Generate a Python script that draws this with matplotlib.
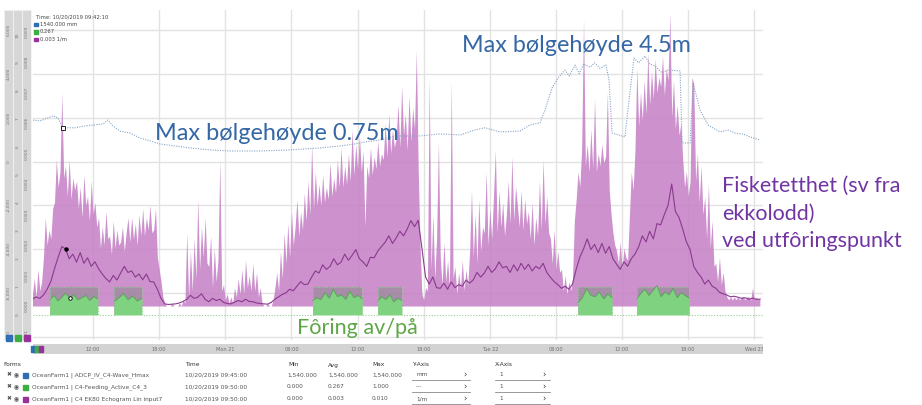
import numpy as np
import pandas as pd
import matplotlib
matplotlib.use("Agg")
import matplotlib.pyplot as plt
from matplotlib.patches import Rectangle
from matplotlib.transforms import blended_transform_factory

# EK80 echogram, peak sv every 10 min from Sun 20 06:30 (10^-3 1/m), one row per hour
echo_peak_milli = [
    0.4, 0.9, 0.3, 1.2, 0.5, 0.8,
    1.6, 2.9, 2.0, 2.5, 2.2, 3.2,
    3.4, 4.8, 3.9, 4.4, 7.0, 4.2,
    4.6, 3.6, 4.8, 3.5, 4.2, 3.8,
    4.1, 3.2, 3.9, 2.9, 4.3, 3.3,
    3.6, 2.8, 4.1, 3.0, 3.4, 2.6,
    2.9, 1.9, 2.6, 2.0, 3.1, 2.2,
    2.3, 1.7, 2.8, 1.9, 2.5, 2.0,
    2.1, 2.6, 1.8, 2.4, 2.9, 2.1,
    2.9, 2.2, 2.7, 2.0, 3.0, 2.3,
    3.2, 2.3, 2.9, 2.5, 3.3, 2.4,
    2.5, 3.2, 1.6, 1.2, 0.8, 0.3,
    0.1, 0.0, 0.0, 0.0, 0.1, 0.0,
    0.0, 0.0, 0.1, 0.0, 0.2, 0.1,
    2.4, 0.3, 1.8, 0.5, 2.2, 0.9,
    3.5, 1.2, 2.6, 1.6, 2.9, 1.4,
    1.3, 2.3, 0.6, 1.9, 0.8, 1.5,
    4.8, 0.5, 0.7, 0.2, 0.4, 0.1,
    0.3, 0.1, 0.6, 0.3, 0.9, 0.4,
    1.2, 0.4, 1.5, 0.6, 1.0, 0.5,
    1.4, 0.5, 1.1, 0.3, 0.6, 0.1,
    0.0, 0.0, 0.1, 0.0, 0.0, 0.2,
    0.6, 1.1, 0.5, 1.8, 0.9, 2.4,
    1.4, 2.7, 1.6, 3.1, 2.0, 2.6,
    3.5, 2.3, 3.1, 2.5, 3.7, 2.8,
    4.1, 3.0, 5.3, 3.2, 4.4, 3.3,
    4.0, 3.3, 4.3, 3.4, 3.9, 3.5,
    4.7, 3.6, 4.2, 3.7, 4.8, 3.9,
    5.2, 3.9, 4.6, 4.0, 5.0, 4.1,
    5.8, 4.3, 5.3, 4.5, 5.6, 4.4,
    5.1, 2.6, 4.6, 4.2, 5.2, 4.3,
    4.9, 4.5, 5.4, 4.6, 5.0, 4.8,
    6.0, 4.9, 6.3, 5.0, 5.8, 5.2,
    5.5, 6.6, 5.2, 7.2, 5.6, 6.3,
    5.1, 6.9, 5.4, 6.5, 5.8, 8.4,
    4.5, 2.0, 0.4, 0.2, 0.6, 0.5,
    7.5, 1.2, 3.0, 0.9, 2.2, 5.4,
    1.6, 0.7, 2.1, 0.8, 1.5, 0.6,
    7.4, 0.9, 1.3, 0.4, 1.1, 0.6,
    1.5, 0.5, 1.2, 0.7, 1.8, 3.8,
    1.6, 3.0, 1.4, 3.5, 1.8, 2.6,
    2.4, 4.4, 2.0, 3.2, 2.2, 3.6,
    5.1, 2.4, 3.8, 2.6, 3.4, 2.3,
    3.0, 4.1, 2.7, 4.9, 2.8, 3.9,
    3.3, 2.6, 3.8, 2.5, 3.5, 2.7,
    3.1, 2.2, 3.4, 2.0, 2.9, 2.3,
    4.1, 2.5, 4.8, 2.7, 3.6, 2.4,
    2.2, 1.4, 2.5, 1.2, 1.8, 1.1,
    1.2, 0.5, 1.0, 0.4, 0.8, 0.5,
    0.9, 2.8, 3.5, 4.4, 3.9, 5.2,
    9.4, 4.6, 5.3, 4.4, 5.8, 4.5,
    6.8, 4.4, 5.0, 4.6, 5.3, 4.7,
    4.9, 7.0, 3.8, 3.0, 2.4, 2.0,
    1.8, 1.4, 2.1, 1.2, 1.9, 1.6,
    1.5, 3.0, 4.4, 3.8, 5.1, 7.8,
    5.9, 7.0, 6.1, 7.4, 6.3, 8.3,
    6.6, 7.7, 6.8, 8.1, 7.0, 7.5,
    7.2, 8.2, 6.9, 7.8, 7.4, 9.6,
    6.2, 7.4, 5.8, 6.6, 5.6, 6.0,
    4.8, 3.9, 4.4, 3.6, 4.1, 7.5,
    7.3, 4.1, 5.0, 3.4, 4.6, 3.0,
    3.6, 2.2, 4.0, 1.9, 2.8, 1.3,
    1.4, 0.8, 1.6, 0.7, 1.1, 0.5,
    0.3, 0.2, 0.3, 0.2, 0.3, 0.2,
    0.3, 0.2, 0.3, 0.3, 0.2, 0.3,
    0.3, 0.2, 0.6, 0.2, 0.3, 0.2,
    0.3,
]

# running mean of the echogram, every 20 min from Sun 20 06:30 (10^-3 1/m)
echo_mean_milli = [
    0.22, 0.30, 0.25, 0.36, 0.55, 0.80, 1.22, 1.60, 1.95, 1.87, 1.55, 1.70,
    1.44, 1.75, 1.40, 1.58, 1.30, 1.45, 1.22, 1.05, 0.90, 0.79, 1.00, 0.85,
    1.08, 1.30, 1.10, 1.15, 0.95, 1.05, 0.86, 1.05, 0.80, 0.79, 0.55, 0.25,
    0.07, 0.05, 0.06, 0.07, 0.10, 0.15, 0.22, 0.35, 0.25, 0.29, 0.40, 0.22,
    0.14, 0.25, 0.18, 0.22, 0.12, 0.08, 0.07, 0.12, 0.18, 0.14, 0.22, 0.15,
    0.14, 0.10, 0.08, 0.07, 0.06, 0.12, 0.22, 0.30, 0.38, 0.43, 0.55, 0.50,
    0.65, 0.80, 0.70, 0.72, 0.95, 1.15, 1.08, 1.35, 1.20, 1.30, 1.55, 1.35,
    1.44, 1.70, 1.50, 1.66, 1.85, 1.55, 1.44, 1.30, 1.60, 1.58, 1.80, 1.95,
    2.09, 2.30, 2.05, 2.23, 2.45, 2.30, 2.52, 2.80, 2.60, 2.81, 1.90, 0.95,
    0.72, 0.95, 0.60, 0.58, 0.75, 0.55, 0.79, 0.60, 0.70, 0.65, 0.85, 0.75,
    0.86, 1.10, 0.95, 1.08, 1.30, 1.10, 1.22, 1.45, 1.25, 1.30, 1.10, 1.35,
    1.15, 1.40, 1.20, 1.37, 1.15, 1.30, 1.22, 1.40, 1.10, 0.94, 0.80, 0.70,
    0.58, 0.65, 0.55, 0.72, 1.20, 1.60, 1.87, 2.20, 1.85, 2.02, 1.75, 2.05,
    1.73, 1.95, 1.55, 1.37, 1.20, 1.45, 1.30, 1.55, 1.70, 1.94, 2.30, 2.10,
    2.45, 2.20, 2.70, 2.66, 3.00, 3.30, 4.00, 3.10, 2.90, 2.52, 2.10, 1.85,
    1.30, 1.10, 0.95, 0.72, 0.85, 0.65, 0.58, 0.45, 0.40, 0.36, 0.30, 0.32,
    0.29, 0.25, 0.27, 0.22, 0.26, 0.22, 0.22,
]

# ADCP max wave height (hours after Sun 20 00:00, mm)
wave_hours = [
    6.55, 7.18, 7.91, 8.36, 8.81, 9.27, 10.36, 11.26, 12.17, 12.90, 13.35,
    13.80, 14.44, 15.35, 16.26, 17.17, 18.07, 19.43, 20.79, 22.61, 24.42,
    27.14, 29.87, 32.59, 34.40, 35.76, 36.67, 38.03, 39.39, 41.66, 43.48,
    45.29, 46.65, 47.56, 48.92, 50.74, 51.64, 52.55, 53.01, 53.64, 54.18,
    54.82, 55.20, 55.73, 56.10, 56.50, 57.09, 57.50, 58.00, 58.54, 58.81,
    59.09, 60.26, 60.63, 61.08, 61.50, 62.08, 62.50, 62.99, 63.60, 64.17,
    65.26, 65.44, 66.17, 66.44, 67.07, 67.80, 68.89, 69.60, 70.25, 71.00,
    71.61, 72.52,
]
wave_mm = [
    1890, 1850, 1985, 2080, 1985, 1540, 1540, 1620, 1670, 1710, 1890,
    1620, 1390, 1300, 1070, 940, 800, 710, 620, 530, 480,
    480, 530, 620, 710, 800, 890, 980, 1165, 1165, 1260,
    1210, 1440, 1540, 1350, 1390, 1670, 1760, 2350, 3350, 3810,
    4170, 3900, 4400, 4000, 4450, 4300, 4500, 4250, 4400, 3720,
    1300, 1120, 2810, 4720, 4500, 4810, 4450, 4360, 4050, 4170,
    4130, 845, 845, 3580, 2350, 1665, 1350, 1440, 1300, 1250,
    1120, 980,
]

# feeding active periods and feed signal sampled across each period
feed_on = ["2019-10-20 08:05", "2019-10-20 13:55", "2019-10-21 07:55",
           "2019-10-21 13:50", "2019-10-22 08:00", "2019-10-22 13:20"]
feed_off = ["2019-10-20 12:25", "2019-10-20 16:25", "2019-10-21 12:25",
            "2019-10-21 16:00", "2019-10-22 11:05", "2019-10-22 18:05"]
feed_level = [
    [0.55, 0.70, 0.50, 0.65, 0.78, 0.60, 0.72, 0.55, 0.62, 0.70, 0.52, 0.66, 0.58],
    [0.48, 0.62, 0.76, 0.55, 0.68, 0.50, 0.60],
    [0.52, 0.62, 0.55, 0.80, 0.60, 0.92, 0.66, 0.72, 0.56, 0.85, 0.62, 0.70, 0.58],
    [0.50, 0.66, 0.55, 0.72, 0.47, 0.60, 0.52],
    [0.45, 0.62, 0.95, 0.70, 0.66, 0.82, 0.58, 0.75, 0.62],
    [0.58, 0.78, 0.92, 0.70, 0.88, 1.05, 0.66, 0.82, 0.72, 0.95, 0.62, 0.80, 0.70, 0.60],
]

series_names = ["OceanFarm1 | ADCP_IV_C4-Wave_Hmax",
                "OceanFarm1 | C4-Feeding_Active_C4_3",
                "OceanFarm1 | C4 EK80 Echogram Lin input7"]
series_colors = ["#2f6db5", "#3cae44", "#9b2f9b"]
series_time = ["10/20/2019 09:45:00", "10/20/2019 09:50:00", "10/20/2019 09:50:00"]
series_min = ["1,540.000", "0.000", "0.000"]
series_avg = ["1,540.000", "0.267", "0.003"]
series_max = ["1,540.000", "1.000", "0.010"]
series_unit = ["mm", "---", "1/m"]
cursor_values = ["1540.000 mm", "0.267", "0.003 1/m"]

W, H = 922, 405
fig = plt.figure(figsize=(W / 100, H / 100), dpi=100)
fig.patch.set_facecolor("white")


def px_box(x0, y0, x1, y1):
    return [x0 / W, 1 - y1 / H, (x1 - x0) / W, (y1 - y0) / H]


def ftext(x, y, s, **kw):
    return fig.text(x / W, 1 - y / H, s, **kw)


t_start = pd.Timestamp("2019-10-20 06:33")
t_end = pd.Timestamp("2019-10-23 00:47")
echo_t = pd.date_range("2019-10-20 06:30", periods=len(echo_peak_milli), freq="10min")
mean_t = pd.date_range("2019-10-20 06:30", periods=len(echo_mean_milli), freq="20min")
wave_t = pd.Timestamp("2019-10-20") + pd.to_timedelta(wave_hours, unit="h")
echo_peak = np.array(echo_peak_milli) * 1e-3
echo_mean = np.array(echo_mean_milli) * 1e-3

wave_lim = (-8140, 6910)
feed_lim = (-0.893, 10.893)
echo_lim = (-1.115e-3, 9.705e-3)
grid_times = pd.date_range("2019-10-20 12:00", "2019-10-23 00:00", freq="6h")

ax = fig.add_axes(px_box(33, 10, 763, 340))
ax.set_xlim(t_start, t_end)
ax.set_ylim(*wave_lim)
ax.set_xticks(grid_times)
ax.set_yticks(np.arange(-8000, 6001, 2000))
ax.grid(color="#e2e2e2", lw=1.0)
ax.tick_params(length=0, labelleft=False, labelbottom=False)

ax_echo = ax.twinx()
ax_feed = ax.twinx()
ax_wave = ax.twinx()
for a in (ax, ax_echo, ax_feed, ax_wave):
    for s in a.spines.values():
        s.set_visible(False)
    a.tick_params(length=0, labelleft=False, labelright=False, labelbottom=False)
ax_echo.set_ylim(*echo_lim)
ax_feed.set_ylim(*feed_lim)
ax_wave.set_ylim(*wave_lim)

# echogram: peak envelope and running mean
ax_echo.fill_between(echo_t, 0, echo_peak, color="#c682c6", alpha=0.88, lw=0)
ax_echo.plot(mean_t, echo_mean, color="#8a3a8e", lw=0.8)
ax_echo.plot(mean_t[9], echo_mean[9], "o", ms=2.2, color="black")

# feeding on/off boxes and feed signal
state_t, state_v = [t_start], [0]
for on, off, lvl in zip(feed_on, feed_off, feed_level):
    on, off = pd.Timestamp(on), pd.Timestamp(off)
    ax_feed.fill_between([on, off], 0, 1, color="#8a8a8a", alpha=0.55, lw=0)
    lt = pd.date_range(on, off, periods=len(lvl))
    ax_feed.fill_between(lt, 0, lvl, color="#7fd27f", lw=0)
    ax_feed.plot(lt, lvl, color="#52a852", lw=0.6)
    state_t += [on, on, off, off]
    state_v += [0, 1, 1, 0]
state_t.append(t_end)
state_v.append(0)
ax_feed.plot(state_t, state_v, ls=(0, (1, 1.5)), color="#8fd08f", lw=0.8)
ax_feed.plot(pd.date_range(feed_on[0], feed_off[0], periods=len(feed_level[0]))[5],
             feed_level[0][5], "o", ms=2.5, mfc="white", mec="black", mew=0.6)

# wave height
ax_wave.plot(wave_t, wave_mm, ls=(0, (1, 1.2)), color="#86a4c6", lw=0.8)
ax_wave.plot(wave_t[5], wave_mm[5], "s", ms=2.5, mfc="white", mec="black", mew=0.6)

# y-axis strips on the left
strips = [
    (4, wave_lim, np.arange(-8000, 6001, 2000), lambda v: f"{v:,.0f}"),
    (13, feed_lim, np.arange(0, 11), lambda v: f"{v:.0f}"),
    (22, echo_lim, np.arange(-0.001, 0.0095, 0.001), lambda v: f"{v:.3f}"),
]
for (x0, lim, ticks, fmt), col in zip(strips, series_colors):
    sa = fig.add_axes(px_box(x0, 10, x0 + 9, 340))
    sa.set_facecolor("#d7d7d7")
    sa.set_ylim(*lim)
    sa.set_xlim(0, 1)
    sa.set_xticks([])
    sa.set_yticks([])
    for s in sa.spines.values():
        s.set_color("#f4f4f4")
        s.set_linewidth(0.6)
    for v in ticks:
        sa.text(0.5, v, fmt(v), rotation=90, ha="center", va="center",
                fontsize=3.2, color="#777777", clip_on=True)
    fig.patches.append(Rectangle((x0 / W + 1.5 / W, 1 - 341 / H), 6 / W, 6 / H,
                                 transform=fig.transFigure, color=col))

# time strip under the chart
xa = fig.add_axes(px_box(33, 344, 763, 354), sharex=ax)
xa.set_facecolor("#d3d3d3")
xa.set_yticks([])
xa.tick_params(length=0, labelbottom=False)
for s in xa.spines.values():
    s.set_visible(False)
trans = blended_transform_factory(xa.transData, xa.transAxes)
for d in grid_times:
    lab = d.strftime("%a %d") if d.hour == 0 else d.strftime("%H:%M")
    xa.text(d, 0.45, lab, transform=trans, ha="center", va="center",
            fontsize=3.6, color="#6f6f6f", clip_on=True)
for i, col in enumerate(series_colors):
    fig.patches.append(Rectangle(((31 + 4 * i) / W, 1 - 352 / H), 4 / W, 6 / H,
                                 transform=fig.transFigure, color=col))

# cursor readout
ftext(36, 17, "Time: 10/20/2019 09:42:10", fontsize=3.8, color="#444444", va="center")
for i, (val, col) in enumerate(zip(cursor_values, series_colors)):
    y = 24 + 7.5 * i
    fig.patches.append(Rectangle((34 / W, 1 - (y + 2) / H), 3.5 / W, 3.5 / H,
                                 transform=fig.transFigure, color=col))
    ftext(40, y, val, fontsize=3.8, color="#444444", va="center")

# annotations
font = ["Lato", "DejaVu Sans"]
ftext(462, 45, "Max bølgehøyde 4.5m", family=font, fontsize=16.8,
      color="#3467a4", va="center")
ftext(155, 133, "Max bølgehøyde 0.75m", family=font, fontsize=16.9,
      color="#3467a4", va="center")
ftext(722, 176, "Fisketetthet (sv fra\nekkolodd)\nved utfôringspunkt",
      family=font, fontsize=15.5, color="#7134a3", va="top", linespacing=1.47)
ftext(297, 328, "Fôring av/på", family=font, fontsize=15.6,
      color="#5ea647", va="center")

# series table
hdr = dict(fontsize=4.2, color="#333333", va="center")
cell = dict(fontsize=4.2, color="#555555", va="center")
ftext(3, 365, "Forms", **hdr)
for x, s in [(185, "Time"), (288, "Min"), (328, "Avg"), (372, "Max"),
             (412, "Y-Axis"), (495, "X-Axis")]:
    ftext(x, 365, s, **hdr)
for i in range(3):
    y = 375 + 12 * i
    ftext(6, y, "✖", **cell)
    ftext(14, y, "◉", **cell)
    fig.patches.append(Rectangle((23 / W, 1 - (y + 2.5) / H), 5 / W, 5 / H,
                                 transform=fig.transFigure, color=series_colors[i]))
    ftext(32, y, series_names[i], **cell)
    ftext(185, y, series_time[i], **cell)
    ftext(287, y, series_min[i], **cell)
    ftext(328, y, series_avg[i], **cell)
    ftext(372, y, series_max[i], **cell)
    ftext(416, y, series_unit[i], **cell)
    ftext(463, y, "›", fontsize=6, color="#333333", va="center")
    ftext(499, y, "1", **cell)
    ftext(542, y, "›", fontsize=6, color="#333333", va="center")
    for x0, x1 in [(412, 470), (495, 550)]:
        fig.add_artist(plt.Line2D([x0 / W, x1 / W], [1 - (y + 4.5) / H] * 2,
                                  color="#888888", lw=0.6))

fig.savefig("out.png", dpi=100)
